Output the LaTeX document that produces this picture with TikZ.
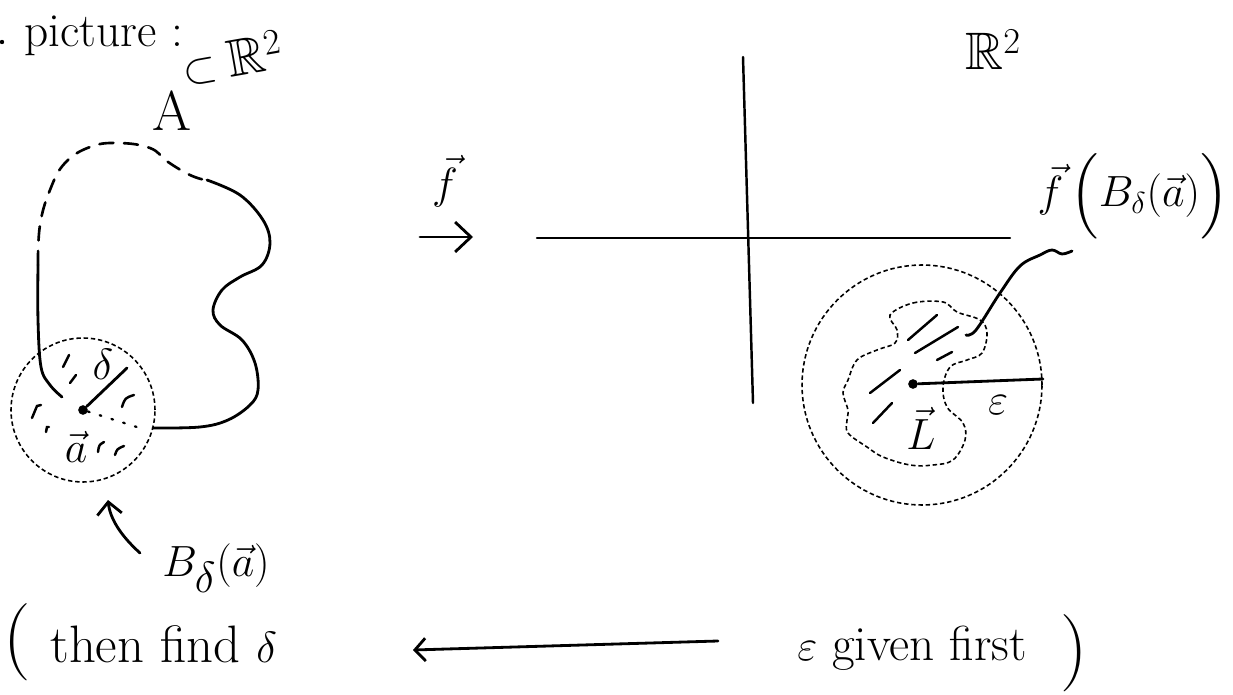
\documentclass[tikz,border=0pt]{standalone}
\usepackage{amssymb}
\usetikzlibrary{arrows.meta}
\begin{document}
\begin{tikzpicture}[x=0.02cm,y=-0.02cm,
  stroke/.style={line width=1.6pt, line cap=round, line join=round},
  bigdash/.style={line width=1.5pt, line cap=round, dash pattern=on 8pt off 6pt},
  smalldash/.style={line width=0.9pt, dash pattern=on 2.5pt off 1.6pt},
  dotline/.style={line width=1.3pt, line cap=round, dash pattern=on 1pt off 6pt},
  hatch/.style={line width=1.4pt, line cap=round},
  lbl/.style={inner sep=0pt, font=\fontsize{30}{36}\selectfont},
  dotmark/.style={circle, fill, inner sep=0pt, minimum size=5.5pt},
  bigtip/.style={-{Straight Barb[length=6pt, width=13pt]}},
  maptip/.style={-{Straight Barb[length=9pt, width=17pt]}}
]
\useasboundingbox (0,0) rectangle (1233,695);

% ---------- top-left labels ----------
\node[dotmark, minimum size=2.5pt] (dot0) at (2,42) {};
\node[lbl, font=\fontsize{27}{32}\selectfont, anchor=base west] (pic) at (24,47) {picture :};
\node[lbl, font=\fontsize{32}{38}\selectfont] (A) at (172,111) {A};
\node[lbl, rotate=10] (AR) at (232,58) {$\subset\mathbb{R}^2$};

% ---------- left region ----------
\node[dotmark] (a0) at (83,410) {};
\node[smalldash, draw, circle, minimum size=2.88cm] (ballA) at (83,410) {};

\draw[bigdash] plot[smooth, tension=0.7] coordinates {(38,265) (40,225) (50,190) (65,163) (90,147) (118,143) (150,148) (168,162) (190,175) (205,180)};
\draw[stroke] plot[smooth, tension=0.6] coordinates {(207,180) (240,195) (263,220) (270,243) (262,265) (240,277) (222,290) (213,310) (220,325) (242,340) (255,363) (258,390) (250,405) (228,420) (200,427) (153,428)};
\draw[stroke] plot[smooth, tension=0.6] coordinates {(38,265) (38,320) (41,367) (50,385) (62,397)};

\coordinate (dEnd) at (127,368);
\draw[stroke] (a0) -- (dEnd);
\coordinate (dotEnd) at (140,428);
\draw[dotline] (a0) -- (dotEnd);
\node[lbl, font=\fontsize{26}{30}\selectfont] (delta) at (103,364) {$\delta$};
\node[lbl, font=\fontsize{28}{32}\selectfont] (avec) at (76,447) {$\vec a$};

% hatch marks in left ball
\draw[hatch] (63,367) -- (69,355);
\draw[hatch] (70,383) -- (76,375);
\draw[hatch] (32,418) -- (37,406) -- (41,405);
\draw[hatch] (46,432) -- (47,427) -- (49,427);
\draw[hatch] (122,407) .. controls (125,398) .. (134,395);
\draw[hatch] (98,452) .. controls (99,445) .. (104,442);
\draw[hatch] (115,455) .. controls (117,449) .. (124,446);

% label B_delta(a) with arrow
\node[lbl, font=\fontsize{34}{40}\selectfont] (Bd) at (216,568) {$B_\delta(\vec a)$};
\coordinate (bTail) at (140,553);
\coordinate (bTip) at (108,500);
\draw[stroke, -{Straight Barb[length=7pt, width=14pt]}] (bTail) .. controls (120,535) and (110,518) .. (bTip);

% ---------- map f ----------
\node[lbl, font=\fontsize{34}{40}\selectfont] (fmap) at (445,181) {$\vec f$};
\coordinate (mapS) at (420,237);
\coordinate (mapE) at (473,237);
\draw[stroke, maptip] (mapS) -- (mapE);

% ---------- axes ----------
\coordinate (yTop) at (743,57);
\coordinate (yBot) at (753,403);
\coordinate (xL) at (537,238);
\coordinate (xR) at (1010,238);
\draw[stroke, line width=1.4pt] (yTop) -- (yBot);
\draw[stroke, line width=1.4pt] (xL) -- (xR);
\node[lbl] (R2) at (993,50) {$\mathbb{R}^2$};

% ---------- right region ----------
\node[smalldash, draw, circle, minimum size=4.8cm] (ballE) at (922,385) {};
\node[dotmark] (p0) at (913,384) {};
\coordinate (eEnd) at (1043,379);
\draw[stroke] (p0) -- (eEnd);
\node[lbl, font=\fontsize{28}{32}\selectfont] (epsR) at (998,405) {$\varepsilon$};
\node[lbl, font=\fontsize{26}{30}\selectfont] (Lvec) at (921,428) {$\vec L$};

\draw[smalldash] plot[smooth cycle, tension=0.6] coordinates {(890,315) (913,303) (943,302) (957,312) (980,320) (987,333) (982,353) (967,360) (950,367) (943,387) (947,407) (963,423) (965,440) (953,460) (933,465) (910,465) (883,457) (867,447) (848,433) (847,420) (848,410) (843,393) (848,380) (857,360) (877,350) (895,343) (897,330)};

\draw[hatch] (908,340) -- (937,315);
\draw[hatch] (915,353) -- (958,327);
\draw[hatch] (937,360) -- (952,352);
\draw[hatch] (870,393) -- (900,370);
\draw[hatch] (873,423) -- (892,403);

\node[lbl, font=\fontsize{27}{32}\selectfont] (fB) at (1133,196) {$\vec f\left(\rule[-12pt]{0pt}{36pt}B_\delta(\vec a)\right)$};
\coordinate (leadS) at (966,335);
\draw[stroke] plot[smooth, tension=0.6] coordinates {(leadS) (976,330) (1000,293) (1020,266) (1040,255) (1052,250) (1062,254) (1072,251)};

% ---------- bottom line ----------
\node[lbl, font=\fontsize{44}{50}\selectfont] (lp) at (17,642) {(};
\node[lbl, anchor=base west] (then) at (50,662) {then find $\delta$};
\coordinate (arrR) at (718,641);
\coordinate (arrL) at (413,650);
\draw[stroke, bigtip] (arrR) -- (arrL);
\node[lbl, anchor=base west, font=\fontsize{28}{34}\selectfont] (given) at (797,660) {$\varepsilon$ given first};
\node[lbl, font=\fontsize{44}{50}\selectfont] (rp) at (1074,653) {)};
\end{tikzpicture}
\end{document}
